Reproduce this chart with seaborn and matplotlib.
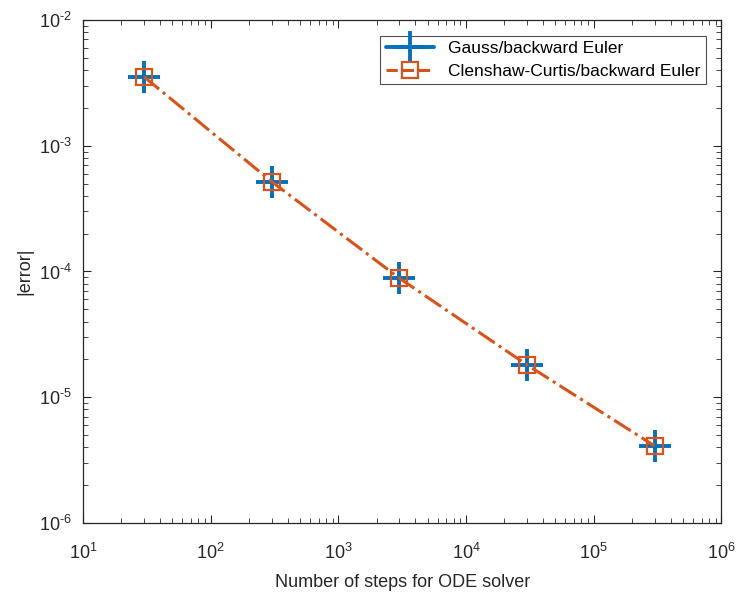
import numpy as np
import pandas as pd
import matplotlib
matplotlib.use('Agg')
import matplotlib.pyplot as plt
import seaborn as sns
from matplotlib.lines import Line2D
from matplotlib.ticker import LogLocator, FuncFormatter

# 数据
steps = [30, 300, 3000, 30000, 300000]
gauss_err = [3.54e-3, 5.19e-4, 8.85e-5, 1.81e-5, 4.1e-6]
cc_err = [3.54e-3, 5.19e-4, 8.85e-5, 1.81e-5, 4.1e-6]

labels = ['Gauss/backward Euler', 'Clenshaw-Curtis/backward Euler']
colors = ['#0072BD', '#D95319']
text_color = '#262626'

sns.set_style('white')
plt.rcParams['font.family'] = ['Liberation Sans', 'DejaVu Sans']
plt.rcParams['mathtext.fontset'] = 'custom'
plt.rcParams['mathtext.rm'] = 'Liberation Sans'
plt.rcParams['mathtext.it'] = 'Liberation Sans'

df_g = pd.DataFrame({'steps': steps, 'err': gauss_err})
df_c = pd.DataFrame({'steps': steps, 'err': cc_err})

fig = plt.figure(figsize=(7.38, 5.92), dpi=100)
ax = fig.add_axes([0.1125, 0.1166, 0.865, 0.8496])

# Gauss: 只画 + 标记
sns.scatterplot(data=df_g, x='steps', y='err', ax=ax, color=colors[0], marker='+',
                s=23 ** 2, linewidth=2.8, zorder=2)
# Clenshaw-Curtis: 点划线 + 方块
sns.lineplot(data=df_c, x='steps', y='err', ax=ax, color=colors[1], marker='s',
             linestyle='-.', linewidth=2.2, markersize=12, markerfacecolor='none',
             markeredgecolor=colors[1], markeredgewidth=1.6, zorder=3)

ax.set_xscale('log')
ax.set_yscale('log')
ax.set_xlim(1e1, 1e6)
ax.set_ylim(1e-6, 1e-2)

ax.set_xlabel('Number of steps for ODE solver', fontsize=13, color=text_color, labelpad=8)
ax.set_ylabel('|error|', fontsize=13, color=text_color)

ax.tick_params(which='both', direction='in', top=True, right=True, bottom=True, left=True,
               colors=text_color, labelcolor=text_color)
ax.tick_params(which='major', length=6, width=0.8, labelsize=13)
ax.tick_params(axis='x', which='major', pad=14)
ax.tick_params(axis='y', which='major', pad=8)
ax.tick_params(which='minor', length=3.5, width=0.6)
ax.xaxis.set_major_locator(LogLocator(base=10, numticks=10))
ax.yaxis.set_major_locator(LogLocator(base=10, numticks=10))
ax.xaxis.set_minor_locator(LogLocator(base=10, subs=np.arange(2, 10), numticks=20))
ax.yaxis.set_minor_locator(LogLocator(base=10, subs=np.arange(2, 10), numticks=20))


def exp_label(v, p):
    e = int(round(np.log10(v)))
    if e < 0:
        return r'$10^{\text{-}%d}$' % (-e)
    return r'$10^{%d}$' % e


fmt = FuncFormatter(exp_label)
ax.xaxis.set_major_formatter(fmt)
ax.yaxis.set_major_formatter(fmt)
for s in ax.spines.values():
    s.set_color(text_color)
    s.set_linewidth(0.9)

handles = [
    Line2D([], [], color=colors[0], linestyle='-', linewidth=2.8, marker='+',
           markersize=23, markeredgewidth=2.8),
    Line2D([], [], color=colors[1], linestyle='--', linewidth=2.2, marker='s',
           markersize=12, markerfacecolor='none', markeredgewidth=1.6),
]
leg = ax.legend(handles, labels, loc='upper right', fontsize=12.5, frameon=True,
                fancybox=False, edgecolor=text_color, handlelength=2.8,
                borderaxespad=0.9, labelspacing=0.45, borderpad=0.3)
leg.get_frame().set_linewidth(0.8)
for t in leg.get_texts():
    t.set_color('black')

fig.savefig('out.png', dpi=100)
